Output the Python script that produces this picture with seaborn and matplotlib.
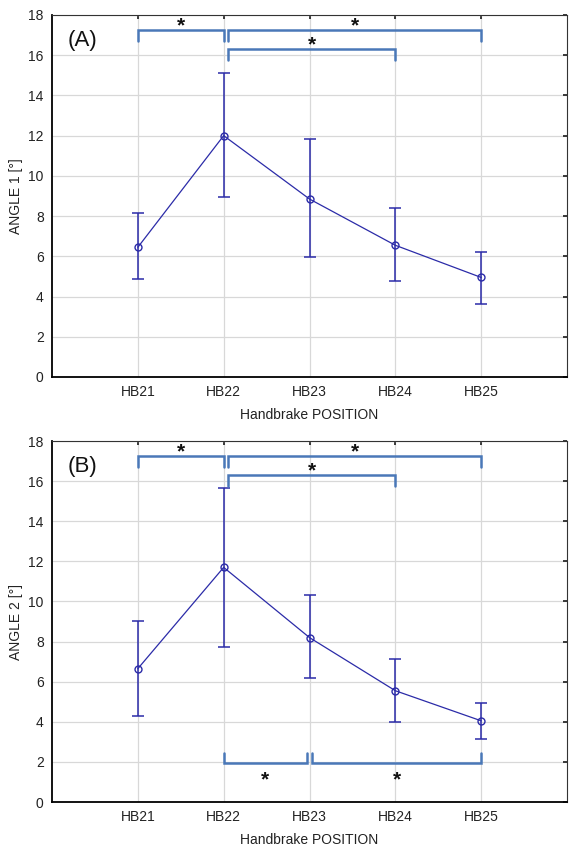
import matplotlib
matplotlib.use("Agg")
import matplotlib.pyplot as plt
import seaborn as sns
import pandas as pd
import numpy as np

positions = ["HB21", "HB22", "HB23", "HB24", "HB25"]
angle1_mean = [6.45, 12.0, 8.85, 6.55, 4.95]
angle1_low = [4.85, 8.95, 5.95, 4.75, 3.65]
angle1_high = [8.15, 15.1, 11.85, 8.4, 6.2]
angle2_mean = [6.65, 11.7, 8.2, 5.55, 4.05]
angle2_low = [4.3, 7.75, 6.2, 4.0, 3.15]
angle2_high = [9.05, 15.65, 10.3, 7.15, 4.95]
yticks = [0, 2, 4, 6, 8, 10, 12, 14, 16, 18]

sns.set_theme(style="white")
plt.rcParams['font.family'] = ['Liberation Sans', 'DejaVu Sans']

fig = plt.figure(figsize=(5.74, 8.47), dpi=100)
ax1 = fig.add_axes([0.0906, 0.5549, 0.8972, 0.4274])
ax2 = fig.add_axes([0.0906, 0.0531, 0.8972, 0.4262])

line_c = "#2b2ba8"
br_c = "#4a78b8"

def panel(ax, mean, low, high, ylabel, tag):
    df = pd.DataFrame({"pos": positions, "val": mean})
    sns.lineplot(data=df, x="pos", y="val", ax=ax, color=line_c, lw=0.9,
                 marker="o", markersize=5, markerfacecolor="none",
                 markeredgecolor=line_c, markeredgewidth=1.0, sort=False)
    x = np.arange(len(positions))
    m = np.array(mean)
    ax.errorbar(x, m, yerr=[m - np.array(low), np.array(high) - m], fmt="none",
                ecolor=line_c, elinewidth=1.1, capsize=4.5, capthick=1.1)
    ax.set_xlim(-1, 5)
    ax.set_ylim(0, 18)
    ax.set_yticks(yticks)
    ax.set_xticks(x)
    ax.set_xticklabels(positions)
    ax.grid(True, color="#d8d8d8", lw=0.9)
    ax.set_axisbelow(True)
    for s in ["top", "right"]:
        ax.spines[s].set_color("#333333")
        ax.spines[s].set_linewidth(0.8)
    for s in ["left", "bottom"]:
        ax.spines[s].set_color("black")
        ax.spines[s].set_linewidth(1.3)
    ax.tick_params(axis="both", labelsize=10, colors="#222222", length=3,
                   direction="in", top=True, right=True, left=False, bottom=False,
                   pad=6)
    ax.set_xlabel("Handbrake POSITION", fontsize=10, color="#222222", labelpad=6)
    ax.set_ylabel(ylabel, fontsize=10, color="#222222", labelpad=4)
    ax.text(-0.82, 16.75, tag, fontsize=16, color="#111111", va="center", ha="left")

def bracket_down(ax, x0, x1, y, leg, star_y):
    ax.plot([x0, x0, x1, x1], [y - leg, y, y, y - leg], color=br_c, lw=1.8,
            solid_joinstyle="miter")
    ax.text((x0 + x1) / 2, star_y, "*", ha="center", va="center", fontsize=15,
            color="#111111", fontweight="bold")

def bracket_up(ax, x0, x1, y, leg, star_y):
    ax.plot([x0, x0, x1, x1], [y + leg, y, y, y + leg], color=br_c, lw=1.8,
            solid_joinstyle="miter")
    ax.text((x0 + x1) / 2, star_y, "*", ha="center", va="center", fontsize=15,
            color="#111111", fontweight="bold")

panel(ax1, angle1_mean, angle1_low, angle1_high, "ANGLE 1 [°]", "(A)")
bracket_down(ax1, 0, 1, 17.25, 0.55, 17.45)
bracket_down(ax1, 1.05, 4, 17.25, 0.55, 17.45)
bracket_down(ax1, 1.05, 3, 16.3, 0.55, 16.5)

panel(ax2, angle2_mean, angle2_low, angle2_high, "ANGLE 2 [°]", "(B)")
bracket_down(ax2, 0, 1, 17.25, 0.55, 17.45)
bracket_down(ax2, 1.05, 4, 17.25, 0.55, 17.45)
bracket_down(ax2, 1.05, 3, 16.3, 0.55, 16.5)
bracket_up(ax2, 1, 1.97, 1.95, 0.5, 1.1)
bracket_up(ax2, 2.03, 4, 1.95, 0.5, 1.1)

fig.savefig("out.png", dpi=100)
